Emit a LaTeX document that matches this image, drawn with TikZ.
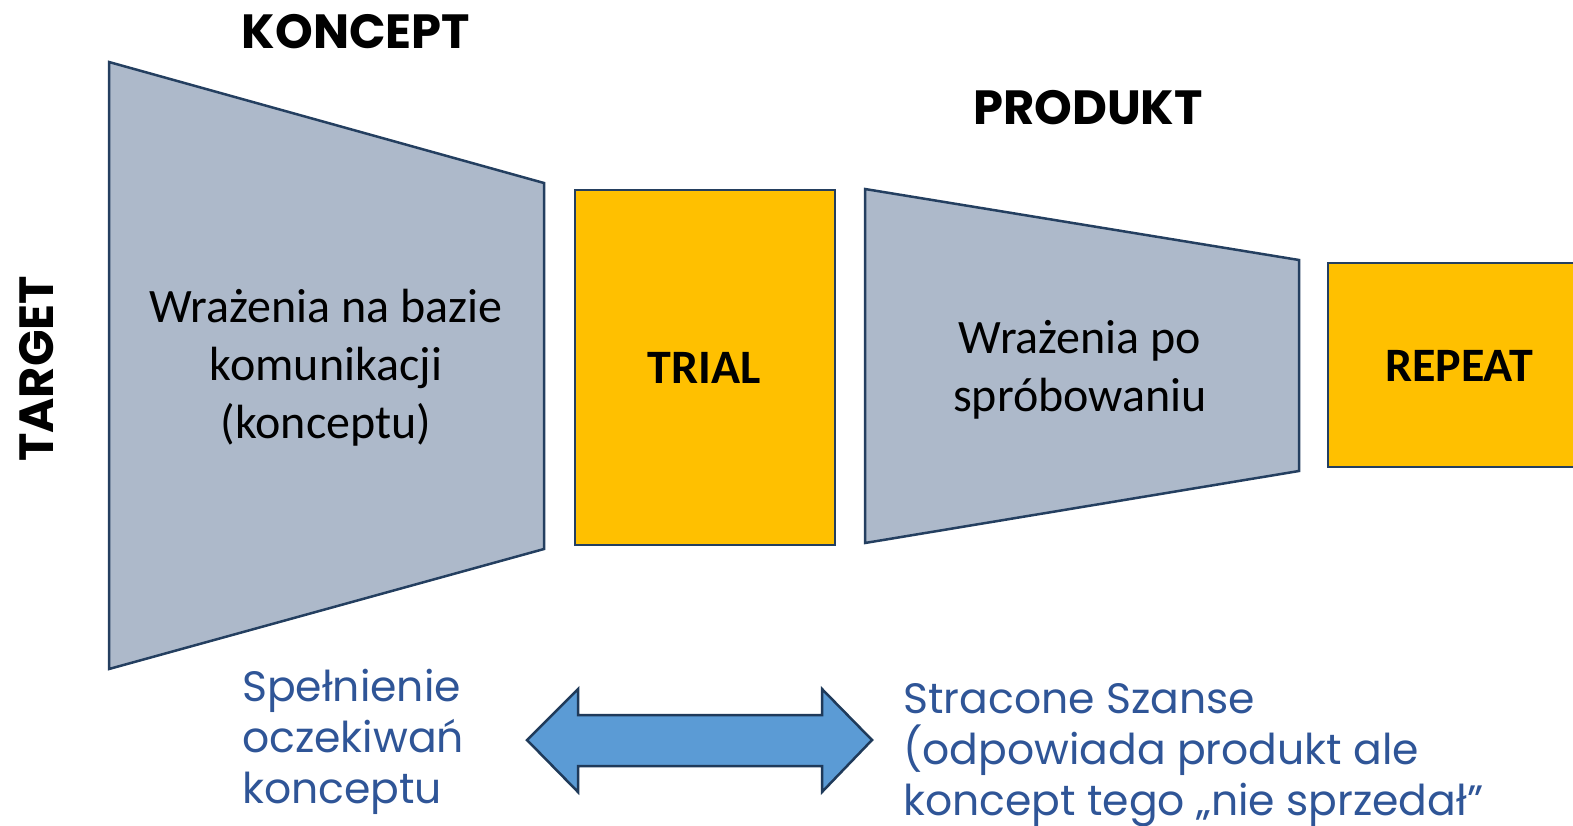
\documentclass[tikz,border=0pt]{standalone}
\usepackage{fontspec}
\setmainfont{Carlito}
\newfontfamily\popfont{Poppins}
\definecolor{funnel}{HTML}{ADB9CA}
\definecolor{edge}{HTML}{243F60}
\definecolor{gold}{HTML}{FFC000}
\definecolor{arrowfill}{HTML}{5B9BD5}
\definecolor{arrowedge}{HTML}{1F3A5A}
\definecolor{note}{HTML}{2F5597}
\tikzset{
  funnelshape/.style={fill=funnel, draw=edge, line width=2.5pt, line join=miter},
  goldbox/.style={fill=gold, draw=edge, line width=2.5pt},
  boxtext/.style={align=center, inner sep=0pt, font=\fontsize{48}{58}\selectfont},
  boldbox/.style={inner sep=0pt, font=\fontsize{48}{58}\selectfont\bfseries},
  heading/.style={inner sep=0pt, font=\popfont\fontsize{48}{58}\selectfont\bfseries},
  notetext/.style={align=left, inner sep=0pt, text=note, font=\popfont\fontsize{42.5}{51}\selectfont},
}
\begin{document}
\begin{tikzpicture}[x=1pt,y=-1pt]
\useasboundingbox (0,0) rectangle (1573,825);
\clip (0,0) rectangle (1573,825);

% concept funnel
\draw[funnelshape] (109,62) -- (544,183) -- (544,549) -- (109,669) -- cycle;
% trial box
\draw[goldbox] (575,190) rectangle (835,545);
% product funnel
\draw[funnelshape] (865,189) -- (1299,260) -- (1299,471) -- (865,543) -- cycle;
% repeat box, running off the right side
\draw[goldbox] (1328,263) rectangle (1600,467);

% double arrow
\draw[fill=arrowfill, draw=arrowedge, line width=2.5pt, line join=miter]
  (527,740) -- (578,689) -- (578,715) -- (822,715) -- (822,689) -- (872,740)
  -- (822,792) -- (822,766) -- (578,766) -- (578,792) -- cycle;

% headings
\node[heading] (koncept) at (356,32) {KONCEPT};
\node[heading] (produkt) at (1088,108) {PRODUKT};
\node[heading, rotate=90] (target) at (37,369) {TARGET};

% box texts
\node[boxtext] (wcom) at (326,368) {Wrażenia na bazie\\komunikacji\\(konceptu)};
\node[boldbox] (trial) at (704,368) {TRIAL};
\node[boxtext] (wpo) at (1080,370) {Wrażenia po\\spróbowaniu};
\node[boldbox] (repeat) at (1459,366) {REPEAT};

% notes under the funnel
\node[notetext, anchor=west] (spel) at (242,742) {Spełnienie\\oczekiwań\\konceptu};
\node[notetext, anchor=west] (strac) at (903,755) {Stracone Szanse\\(odpowiada produkt ale\\koncept tego „nie sprzedał”};
\end{tikzpicture}
\end{document}
